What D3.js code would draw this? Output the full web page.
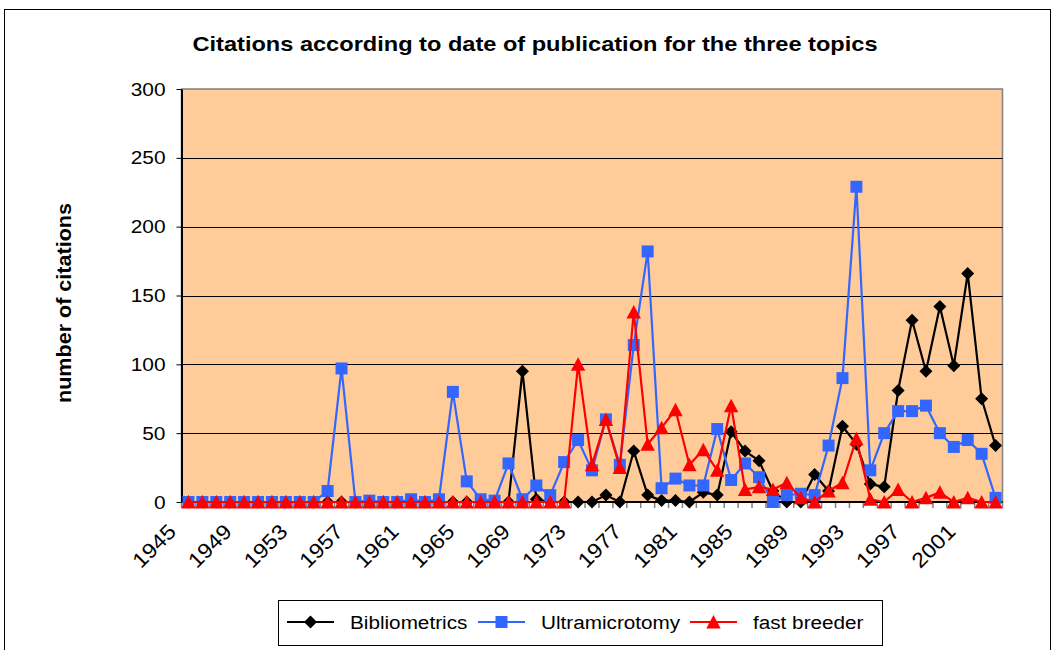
<!DOCTYPE html>
<html>
<head>
<meta charset="utf-8" />
<title>citations</title>
<script src="https://d3js.org/d3.v7.min.js"></script>
<style>
    body { margin: 0; background: #ffffff; }
    svg { display: block; font-family: "Liberation Sans", Arial, sans-serif; }
</style>
</head>
<body>
<svg width="1056" height="650"></svg>
<script>
// categories: one per publication year
var years = [1945, 1946, 1947, 1948, 1949, 1950, 1951, 1952, 1953, 1954,
             1955, 1956, 1957, 1958, 1959, 1960, 1961, 1962, 1963, 1964,
             1965, 1966, 1967, 1968, 1969, 1970, 1971, 1972, 1973, 1974,
             1975, 1976, 1977, 1978, 1979, 1980, 1981, 1982, 1983, 1984,
             1985, 1986, 1987, 1988, 1989, 1990, 1991, 1992, 1993, 1994,
             1995, 1996, 1997, 1998, 1999, 2000, 2001, 2002, 2003];
var tickYears = [1945, 1949, 1953, 1957, 1961, 1965, 1969, 1973, 1977, 1981, 1985, 1989, 1993, 1997, 2001];
var yTicks = [0, 50, 100, 150, 200, 250, 300];

var bibliometrics = [0, 0, 0, 0, 0, 0, 0, 0, 0, 0,
                     0, 0, 0, 0, 0, 0, 0, 0, 0, 0,
                     0, 0, 0, 0, 95, 2, 0, 0, 0, 0,
                     5, 0, 37, 5, 1, 1, 0, 7, 5, 51,
                     37, 30, 8, 0, 0, 20, 8, 55, 42, 13,
                     11, 81, 132, 95, 142, 99, 166, 75, 41];
var ultramicrotomy = [0, 0, 0, 0, 0, 0, 0, 0, 0, 0,
                      8, 97, 0, 1, 0, 0, 2, 0, 2, 80,
                      15, 2, 1, 28, 2, 12, 5, 29, 45, 23,
                      60, 27, 114, 182, 10, 17, 12, 12, 53, 16,
                      28, 18, 0, 5, 6, 5, 41, 90, 229, 23,
                      50, 66, 66, 70, 50, 40, 45, 35, 3];
var fastBreeder = [0, 0, 0, 0, 0, 0, 0, 0, 0, 0,
                   0, 0, 0, 0, 0, 0, 0, 0, 0, 0,
                   0, 0, 0, 0, 0, 0, 0, 0, 100, 27,
                   60, 25, 138, 42, 54, 67, 27, 38, 23, 70,
                   9, 11, 9, 14, 3, 0, 8, 14, 46, 2,
                   0, 9, 0, 3, 7, 0, 3, 0, 0];

var seriesNames = ['Bibliometrics', 'Ultramicrotomy', 'fast breeder'];

var markers = {
    diamond: 'M0,-6.5L6.5,0L0,6.5L-6.5,0Z',
    square: 'M-6,-6H6V6H-6Z',
    triangle: 'M0,-7L7.2,6.5L-7.2,6.5Z'
};
var series = [
    { name: seriesNames[0], values: bibliometrics, color: '#000000', marker: 'diamond' },
    { name: seriesNames[1], values: ultramicrotomy, color: '#3366ff', marker: 'square' },
    { name: seriesNames[2], values: fastBreeder, color: '#ff0000', marker: 'triangle' }
];

var plotLeft = 181.5, plotRight = 1002.5, plotTop = 89, plotBottom = 502;

var svg = d3.select('svg');

// stretch text a little along its baseline, the source renders wide glyphs
function widen(sel, k) {
    sel.each(function() {
        var w = this.getComputedTextLength();
        d3.select(this).attr('textLength', w * k).attr('lengthAdjust', 'spacingAndGlyphs');
    });
}

svg.append('rect').attr('width', 1056).attr('height', 650).attr('fill', '#ffffff');
svg.append('rect')
    .attr('x', 4.5).attr('y', 9.5)
    .attr('width', 1046).attr('height', 700)
    .attr('fill', 'none').attr('stroke', '#000000');

var x = d3.scaleBand().domain(years).range([plotLeft, plotRight]);
var y = d3.scaleLinear().domain([0, 300]).range([plotBottom, plotTop]);
var cx = function(d, i) { return x(years[i]) + x.bandwidth() / 2; };

// plot area
svg.append('rect')
    .attr('x', plotLeft).attr('y', plotTop)
    .attr('width', plotRight - plotLeft).attr('height', plotBottom - plotTop)
    .attr('fill', '#ffcc99')
    .attr('stroke', '#808080').attr('stroke-width', 1.5);

svg.append('g').selectAll('line')
    .data(yTicks.slice(1, -1))
    .enter().append('line')
    .attr('x1', plotLeft).attr('x2', plotRight)
    .attr('y1', function(d) { return Math.round(y(d)) + 0.5; })
    .attr('y2', function(d) { return Math.round(y(d)) + 0.5; })
    .attr('stroke', '#000000').attr('stroke-width', 1);

// y axis
var gy = svg.append('g')
    .attr('transform', 'translate(' + plotLeft + ',0)')
    .call(d3.axisLeft(y).tickValues(yTicks).tickSize(5).tickPadding(11).tickSizeOuter(0));
gy.select('.domain').attr('stroke', '#000000').attr('stroke-width', 2);
gy.selectAll('.tick line').attr('stroke', '#000000');
gy.selectAll('text')
    .attr('font-family', '"Liberation Sans", Arial, sans-serif')
    .attr('font-size', 19).attr('fill', '#000000');

// x axis: tick marks on category boundaries
svg.append('g').selectAll('line')
    .data(years.concat(['end']))
    .enter().append('line')
    .attr('x1', function(d) { return d === 'end' ? plotRight : x(d); })
    .attr('x2', function(d) { return d === 'end' ? plotRight : x(d); })
    .attr('y1', plotBottom).attr('y2', plotBottom + 6)
    .attr('stroke', '#808080').attr('stroke-width', 1.5);
svg.append('line')
    .attr('x1', plotLeft).attr('x2', plotRight)
    .attr('y1', plotBottom).attr('y2', plotBottom)
    .attr('stroke', '#000000').attr('stroke-width', 2);

var gx = svg.append('g')
    .attr('transform', 'translate(0,' + plotBottom + ')')
    .call(d3.axisBottom(x).tickValues(tickYears).tickSize(0).tickFormat(d3.format('d')));
gx.select('.domain').remove();
gx.selectAll('text')
    .attr('font-family', '"Liberation Sans", Arial, sans-serif')
    .attr('font-size', 21).attr('fill', '#000000')
    .attr('x', 0).attr('y', 0).attr('dy', 0)
    .style('text-anchor', 'end')
    .attr('transform', 'translate(-11,31) rotate(-45)');

// series
var line = d3.line()
    .x(cx)
    .y(function(d) { return y(d); });

series.forEach(function(s) {
    var g = svg.append('g');
    g.append('path')
        .datum(s.values)
        .attr('d', line)
        .attr('fill', 'none')
        .attr('stroke', s.color)
        .attr('stroke-width', 2.2)
        .attr('stroke-linejoin', 'round');
    g.selectAll('path.mk')
        .data(s.values)
        .enter().append('path')
        .attr('class', 'mk')
        .attr('d', markers[s.marker])
        .attr('transform', function(d, i) { return 'translate(' + cx(d, i) + ',' + y(d) + ')'; })
        .attr('fill', s.color);
});

// title
var title = svg.append('text')
    .attr('x', 535).attr('y', 51)
    .attr('text-anchor', 'middle')
    .attr('font-size', 21).attr('font-weight', 'bold')
    .text('Citations according to date of publication for the three topics');
title.attr('textLength', 685).attr('lengthAdjust', 'spacingAndGlyphs');

var ylab = svg.append('text')
    .attr('transform', 'translate(71,303) rotate(-90)')
    .attr('text-anchor', 'middle')
    .attr('font-size', 20).attr('font-weight', 'bold')
    .text('number of citations');
ylab.attr('textLength', 200).attr('lengthAdjust', 'spacingAndGlyphs');

// legend
var legend = svg.append('g');
legend.append('rect')
    .attr('x', 278.5).attr('y', 600.5)
    .attr('width', 604).attr('height', 45)
    .attr('fill', '#ffffff').attr('stroke', '#000000');
var legendX = [287, 478, 690];
series.forEach(function(s, i) {
    var lg = legend.append('g').attr('transform', 'translate(' + legendX[i] + ',622)');
    lg.append('line').attr('x1', 0).attr('x2', 47)
        .attr('stroke', s.color).attr('stroke-width', 2.2);
    lg.append('path').attr('d', markers[s.marker])
        .attr('transform', 'translate(23.5,0)')
        .attr('fill', s.color);
    lg.append('text')
        .attr('x', 63).attr('y', 7)
        .attr('font-size', 18)
        .text(s.name);
});
widen(legend.selectAll('text'), 1.15);
widen(gy.selectAll('text'), 1.1);
widen(gx.selectAll('text'), 1.1);
</script>
</body>
</html>
